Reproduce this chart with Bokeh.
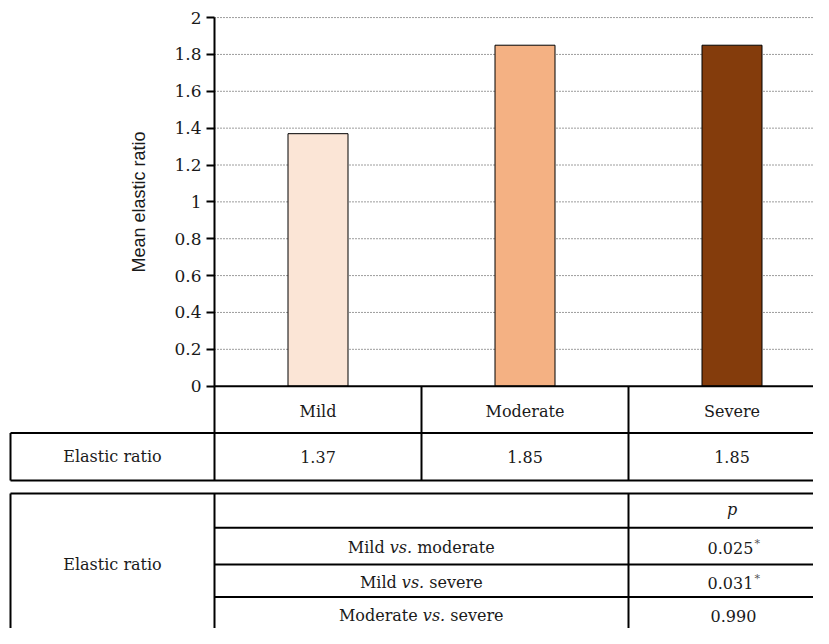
from bokeh.plotting import figure
from bokeh.models import Range1d, LinearAxis, FixedTicker, NumeralTickFormatter
from bokeh.core.properties import value
from bokeh.embed import file_html
from bokeh.resources import INLINE

# ---------------- data ----------------
categories = ["Mild", "Moderate", "Severe"]
elastic_ratio = [1.37, 1.85, 1.85]
elastic_ratio_labels = ["1.37", "1.85", "1.85"]
bar_colors = ["#FBE5D6", "#F4B183", "#843C0C"]
y_ticks = [0, 0.2, 0.4, 0.6, 0.8, 1.0, 1.2, 1.4, 1.6, 1.8, 2.0]
row_label = "Elastic ratio"
y_title = "Mean elastic ratio"
comp_first = ["Mild", "Mild", "Moderate"]
comp_second = ["moderate", "severe", "severe"]
p_values = ["0.025", "0.031", "0.990"]
p_significant = [True, True, False]

# ---------------- layout (pixel geometry of the reference) ----------------
W, H = 813, 628
PXX = 207.0            # reference pixels per category
PXY = 189.0            # reference pixels per y unit
OX, OY = 214.0, 395.5  # reference pixel of (x=0, y=0)
def ux(px): return (px - OX) / PXX
def uy(py): return (OY - py) / PXY

X0, X1 = ux(0), ux(W)
Y1, Y0 = uy(0), uy(644)     # the reference's full height, scaled into H

SERIF = "DejaVu Serif"
SANS = "Liberation Sans"
FS = 16
TXT = "#1a1a1a"

p = figure(width=W, height=H, x_range=Range1d(X0, X1), y_range=Range1d(Y0, Y1),
           x_axis_type=None, y_axis_type=None, toolbar_location=None,
           output_backend="svg", min_border=0)
p.outline_line_color = None
p.background_fill_color = "white"

# grid lines (dotted)
grid_vals = [t for t in y_ticks if t > 0]
p.segment(x0=[0] * len(grid_vals), x1=[3.2] * len(grid_vals), y0=grid_vals, y1=grid_vals,
          line_color="#3a3a3a", line_width=1, line_dash="1 2")

# bars
xs = [i + 0.5 for i in range(len(categories))]
p.vbar(x=xs, top=elastic_ratio, bottom=0, width=60 / PXX, fill_color=bar_colors,
       line_color="#000000", line_width=1)

# y axis
yaxis = LinearAxis(fixed_location=0, bounds=(0, 2), ticker=FixedTicker(ticks=y_ticks),
                   formatter=NumeralTickFormatter(format="0.[0]"),
                   axis_label=y_title)
yaxis.axis_line_width = 2
yaxis.axis_line_color = "black"
yaxis.major_tick_line_width = 2
yaxis.major_tick_out = 8
yaxis.major_tick_in = 0
yaxis.minor_tick_line_color = None
yaxis.major_label_standoff = 5
yaxis.major_label_text_font = SERIF
yaxis.major_label_text_font_size = "17px"
yaxis.major_label_text_color = TXT
yaxis.axis_label_text_font = SANS
yaxis.axis_label_text_font_size = "18px"
yaxis.axis_label_text_font_style = "normal"
yaxis.axis_label_text_color = TXT
yaxis.axis_label_standoff = 22
p.add_layout(yaxis, "left")

# ---------------- table lines ----------------
t1_mid, t1_bot = uy(443.5), uy(492.3)
t2_top = uy(505.5)
t2_rows = [uy(540.7), uy(578.3), uy(611.7)]
left = ux(10)
bottom = Y0 - 0.5
hx0, hx1, hy = [], [], []
for (a, b, y) in [(0, 3.2, 0), (left, 3.2, t1_mid), (left, 3.2, t1_bot), (left, 3.2, t2_top)]:
    hx0.append(a); hx1.append(b); hy.append(y)
for y in t2_rows:
    hx0.append(0); hx1.append(3.2); hy.append(y)
p.segment(x0=hx0, x1=hx1, y0=hy, y1=hy, line_color="black", line_width=2)

vx, vy0, vy1 = [], [], []
for x in [0, 1, 2]:
    vx.append(x); vy0.append(0); vy1.append(t1_bot)
vx.append(left); vy0.append(t1_mid); vy1.append(t1_bot)
for x in [left, 0, 2]:
    vx.append(x); vy0.append(t2_top); vy1.append(bottom)
p.segment(x0=vx, x1=vx, y0=vy0, y1=vy1, line_color="black", line_width=2)

# ---------------- table texts ----------------
base = dict(text_font=value(SERIF), text_font_size=f"{FS}px", text_color=TXT,
            text_baseline="middle")
p.text(x=xs, y=[uy(421)] * 3, text=categories, text_align="center", **base)
p.text(x=xs, y=[uy(468)] * 3, text=elastic_ratio_labels, text_align="center", **base)
p.text(x=[(left + 0) / 2], y=[uy(468)], text=[row_label], text_align="center", **base)
p.text(x=[(left + 0) / 2], y=[uy(578)], text=[row_label], text_align="center", **base)
p.text(x=[2.5], y=[uy(522)], text=["p"], text_font_style="italic", text_align="center", **base)

# approximate glyph widths (em) for DejaVu Serif, used only to center mixed-style rows
EM = {" ": .318, ".": .318, "M": .995, "i": .32, "l": .32, "d": .64, "v": .565,
      "s": .514, "m": .948, "o": .602, "e": .592, "r": .478, "a": .596, "t": .402,
      "0": .636, "1": .636, "2": .636, "3": .636, "5": .636, "9": .636}
def width_px(s): return sum(EM.get(c, .6) for c in s) * FS

SP = width_px(" ")
row_y = [uy(561), uy(597), uy(631)]
pre_x, vs_x, suf_x = [], [], []
for a, b in zip(comp_first, comp_second):
    pw, vw, sw = width_px(a), width_px("vs."), width_px(b)
    total = pw + SP + vw + SP + sw
    start = 421 - total / 2
    pre_x.append(ux(start + pw))
    vs_x.append(ux(start + pw + SP + vw / 2))
    suf_x.append(ux(start + pw + SP + vw + SP))
p.text(x=pre_x, y=row_y, text=comp_first, text_align="right", **base)
p.text(x=vs_x, y=row_y, text=["vs."] * 3, text_align="center", text_font_style="italic", **base)
p.text(x=suf_x, y=row_y, text=comp_second, text_align="left", **base)

# p values with superscript asterisk
num_x, star_x, star_y = [], [], []
for i, (pv, sig) in enumerate(zip(p_values, p_significant)):
    nw = width_px(pv)
    sw = 6 if sig else 0
    start = 733 - (nw + sw) / 2
    num_x.append(ux(start + nw))
    if sig:
        star_x.append(ux(start + nw + 1))
        star_y.append(row_y[i] + 4 / PXY)
p.text(x=num_x, y=row_y, text=p_values, text_align="right", **base)
p.text(x=star_x, y=star_y, text=["*"] * len(star_x), text_align="left",
       text_font=value(SERIF), text_font_size="11px", text_color="#555555",
       text_baseline="middle")

open("out.html", "w").write(file_html(p, INLINE))
